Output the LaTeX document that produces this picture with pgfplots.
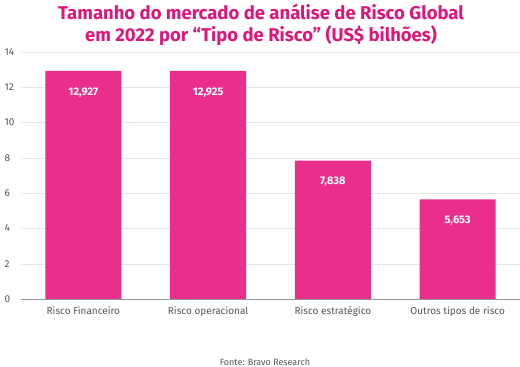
\documentclass[border=0pt]{standalone}
\usepackage{pgfplots}
\pgfplotsset{compat=1.18}
\usepackage{fontspec}
\setmainfont{Fira Sans}
\definecolor{barpink}{HTML}{EA2E8C}
\definecolor{titlepink}{HTML}{E0157C}
\definecolor{gridgray}{HTML}{E6E6E6}
\definecolor{ticktext}{HTML}{555555}
\begin{document}
\begin{tikzpicture}
\path[use as bounding box] (0pt,0pt) rectangle (520pt,367pt);
\node[font=\fontsize{18.5}{22}\selectfont\bfseries, text=titlepink, align=center] at (261pt,342pt) {Tamanho do mercado de análise de Risco Global\\em 2022 por “Tipo de Risco" (US\$ bilhões)};
\begin{axis}[
  at={(21pt,68pt)}, anchor=south west,
  scale only axis, width=499pt, height=247pt,
  xmin=-0.5, xmax=3.5, ymin=0, ymax=14,
  ytick={0,2,...,14},
  xtick={0,1,2,3},
  xticklabels={Risco Financeiro,Risco operacional,Risco estratégico,Outros tipos de risco},
  axis x line*=bottom, axis y line*=left,
  x axis line style={draw=gray!80, -},
  y axis line style={draw=none},
  ymajorgrids, grid style={gridgray},
  major tick length=0pt,
  ticklabel style={font=\fontsize{10}{12}\selectfont, text=ticktext},
  /pgf/number format/assume math mode=true,
  yticklabel style={anchor=west, xshift=-20pt},
  xticklabel style={yshift=-4pt},
  clip=false,
]
\addplot[ybar, bar width=76pt, fill=barpink, draw=none,
  nodes near coords,
  point meta=explicit symbolic,
  nodes near coords style={anchor=north, yshift=-13pt, text=white, font=\fontsize{11}{13}\selectfont\bfseries},
] coordinates {(0,12.927) [12,927] (1,12.925) [12,925] (2,7.838) [7,838] (3,5.653) [5,653]};
\end{axis}
\node[font=\fontsize{9}{11}\selectfont, text=ticktext] at (265pt,5pt) {Fonte: Bravo Research};
\end{tikzpicture}
\end{document}
